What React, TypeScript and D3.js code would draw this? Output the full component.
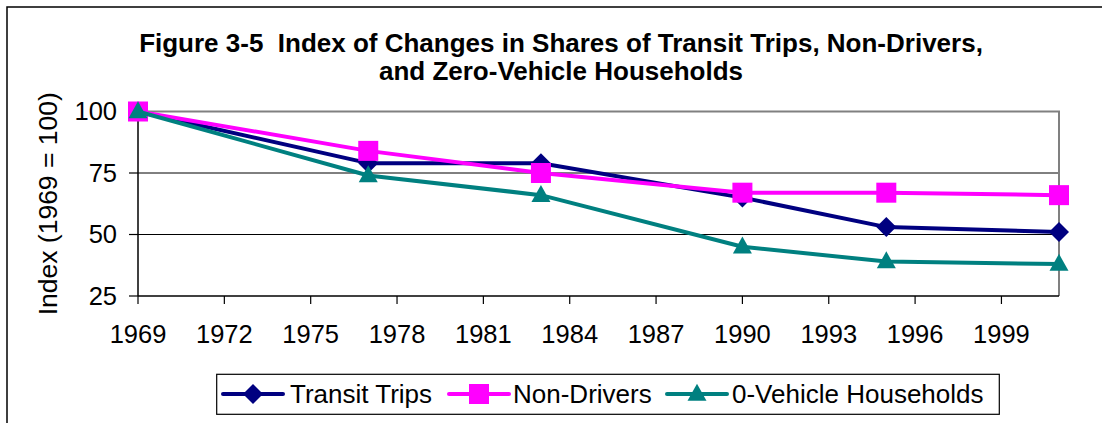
import React from "react";
import * as d3 from "d3";

const years = [1969, 1977, 1983, 1990, 1995, 2001];
const transitTrips = [100, 79, 79, 65, 53, 51];
const nonDrivers = [100, 84, 75, 67, 67, 66];
const zeroVehicle = [100, 74, 66, 45, 39, 38];
const xTicks = [1969, 1972, 1975, 1978, 1981, 1984, 1987, 1990, 1993, 1996, 1999];
const yTicks = [25, 50, 75, 100];
const titleLines = [
  "Figure 3-5  Index of Changes in Shares of Transit Trips, Non-Drivers,",
  "and Zero-Vehicle Households",
];
const yTitle = "Index (1969 = 100)";

type Series = { name: string; values: number[]; color: string; marker: "diamond" | "square" | "triangle" };
const series: Series[] = [
  { name: "Transit Trips", values: transitTrips, color: "#000080", marker: "diamond" },
  { name: "Non-Drivers", values: nonDrivers, color: "#FF00FF", marker: "square" },
  { name: "0-Vehicle Households", values: zeroVehicle, color: "#008080", marker: "triangle" },
];

const FONT = "Arial, 'Liberation Sans', sans-serif";

const plot = { left: 138, right: 1059, top: 111.5, bottom: 296 };

function Marker({ type, x, y, color }: { type: string; x: number; y: number; color: string }) {
  if (type === "diamond") {
    const r = 10;
    return <path d={`M${x},${y - r}L${x + r},${y}L${x},${y + r}L${x - r},${y}Z`} fill={color} />;
  }
  if (type === "square") {
    return <rect x={x - 10} y={y - 10} width={20} height={20} fill={color} />;
  }
  const h = 17;
  const w = 19;
  return (
    <path
      d={`M${x},${y - h * 0.6}L${x + w / 2},${y + h * 0.4}L${x - w / 2},${y + h * 0.4}Z`}
      fill={color}
    />
  );
}

export default function App() {
  const x = d3.scaleLinear().domain([1969, 2001]).range([plot.left, plot.right]);
  const y = d3.scaleLinear().domain([25, 100]).range([plot.bottom, plot.top]);
  const line = d3
    .line<[number, number]>()
    .x((d) => x(d[0]))
    .y((d) => y(d[1]));

  const legendItems = [
    { lineX: 223, textX: 290 },
    { lineX: 449, textX: 513 },
    { lineX: 667, textX: 732 },
  ];
  const legendY = 394;

  return (
    <svg
      width={1102}
      height={423}
      style={{ position: "absolute", left: 0, top: 0, background: "#fff" }}
      fontFamily={FONT}
    >
      <rect x={0} y={0} width={1102} height={423} fill="#fff" />
      <rect x={7} y={7} width={1110} height={430} fill="none" stroke="#000" strokeWidth={1.5} />

      {/* title */}
      {titleLines.map((t, i) => (
        <text
          key={i}
          x={561}
          y={52 + i * 28}
          textAnchor="middle"
          fontSize={26}
          fontWeight="bold"
          fill="#000"
          style={{ whiteSpace: "pre" }}
          xmlSpace="preserve"
        >
          {t}
        </text>
      ))}

      {/* gridlines */}
      {yTicks
        .filter((t) => t !== 25 && t !== 100)
        .map((t) => (
          <line key={t} x1={plot.left} x2={plot.right} y1={y(t)} y2={y(t)} stroke="#000" strokeWidth={1} />
        ))}
      {/* plot border top/right gray */}
      <path
        d={`M${plot.left},${y(100)}H${plot.right}V${plot.bottom}`}
        fill="none"
        stroke="#808080"
        strokeWidth={2}
      />
      {/* axes */}
      <line x1={plot.left} x2={plot.left} y1={plot.top} y2={plot.bottom} stroke="#000" strokeWidth={1.5} />
      <line x1={plot.left} x2={plot.right} y1={plot.bottom} y2={plot.bottom} stroke="#000" strokeWidth={1.5} />

      {yTicks.map((t) => (
        <g key={t}>
          <line x1={plot.left - 9} x2={plot.left} y1={y(t)} y2={y(t)} stroke="#000" strokeWidth={1.2} />
          <text x={117} y={y(t)} dy="0.35em" textAnchor="end" fontSize={25.5} fill="#000">
            {t}
          </text>
        </g>
      ))}
      {xTicks.map((t) => (
        <g key={t}>
          <line x1={x(t)} x2={x(t)} y1={plot.bottom} y2={plot.bottom + 8} stroke="#000" strokeWidth={1.2} />
          <text x={x(t)} y={343} textAnchor="middle" fontSize={25.5} fill="#000">
            {t}
          </text>
        </g>
      ))}

      <text
        transform={`translate(57,${(plot.top + plot.bottom) / 2}) rotate(-90)`}
        textAnchor="middle"
        fontSize={26.5}
        fill="#000"
      >
        {yTitle}
      </text>

      {/* series */}
      {series.map((s) => {
        const pts: [number, number][] = years.map((yr, i) => [yr, s.values[i]]);
        return (
          <g key={s.name}>
            <path d={line(pts) || ""} fill="none" stroke={s.color} strokeWidth={4} strokeLinejoin="round" />
            {pts.map((p, i) => (
              <Marker key={i} type={s.marker} x={x(p[0])} y={y(p[1])} color={s.color} />
            ))}
          </g>
        );
      })}

      {/* legend */}
      <rect x={216.7} y={374.3} width={782.6} height={40} fill="#fff" stroke="#000" strokeWidth={1.2} />
      {series.map((s, i) => {
        const it = legendItems[i];
        return (
          <g key={s.name}>
            <line x1={it.lineX} x2={it.lineX + 60} y1={legendY} y2={legendY} stroke={s.color} strokeWidth={4} strokeLinecap="round" />
            <Marker type={s.marker} x={it.lineX + 30} y={legendY} color={s.color} />
            <text x={it.textX} y={legendY} dy="0.36em" fontSize={26} fill="#000">
              {s.name}
            </text>
          </g>
        );
      })}
    </svg>
  );
}
